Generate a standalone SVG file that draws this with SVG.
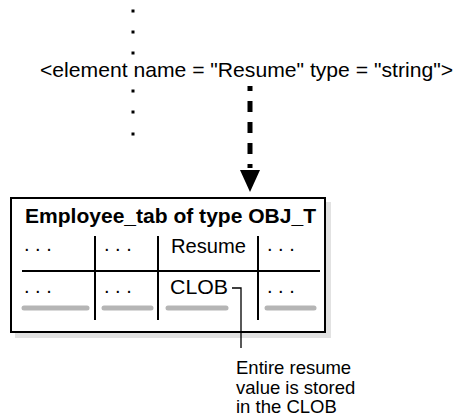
<svg xmlns="http://www.w3.org/2000/svg" width="459" height="418" viewBox="0 0 459 418">
<style>
text{font-family:"Liberation Sans",Arial,sans-serif;fill:#000}
.t{font-size:21px}
.c{font-size:20px}
.n{font-size:18.5px}
.b{font-size:20px;font-weight:bold}
.grid{stroke:#000;stroke-width:2;fill:none}
.bar{stroke:#b5b5b5;stroke-width:5;stroke-linecap:round}
.dot{fill:#000}
</style>
<g id="element">
<rect class="dot" x="131.5" y="9.5" width="3" height="3"/>
<rect class="dot" x="131.5" y="30.5" width="3" height="3"/>
<rect class="dot" x="131.5" y="51.5" width="3" height="3"/>
<text class="t" x="40" y="77" textLength="413" lengthAdjust="spacingAndGlyphs">&lt;element name = "Resume" type = "string"&gt;</text>
<rect class="dot" x="131.5" y="89.5" width="3" height="3"/>
<rect class="dot" x="131.5" y="110.5" width="3" height="3"/>
<rect class="dot" x="131.5" y="132.5" width="3" height="3"/>
</g>
<g id="employee_tab">
<rect x="15" y="202" width="316" height="136" fill="#e2e2e2"/>
<rect x="11" y="198" width="314" height="134" fill="#fff" stroke="#000" stroke-width="2"/>
<text class="b" x="25" y="223" textLength="291" lengthAdjust="spacingAndGlyphs">Employee_tab of type OBJ_T</text>
<line class="grid" x1="22" y1="271" x2="320" y2="271"/>
<line class="grid" x1="95" y1="236" x2="95" y2="320"/>
<line class="grid" x1="158" y1="236" x2="158" y2="320"/>
<line class="grid" x1="258" y1="236" x2="258" y2="320"/>
<line class="bar" x1="24" y1="308" x2="87" y2="308"/>
<line class="bar" x1="104" y1="308" x2="151" y2="308"/>
<line class="bar" x1="168" y1="308" x2="226" y2="308"/>
<line class="bar" x1="267" y1="308" x2="314" y2="308"/>
<text class="c" x="24" y="251">. . .</text>
<text class="c" x="104" y="251">. . .</text>
<text class="c" x="171" y="253" textLength="75" lengthAdjust="spacingAndGlyphs">Resume</text>
<text class="c" x="267" y="251">. . .</text>
<text class="c" x="24" y="293">. . .</text>
<text class="c" x="104" y="293">. . .</text>
<text class="c" x="170" y="294" textLength="58" lengthAdjust="spacingAndGlyphs">CLOB</text>
<text class="c" x="267" y="293">. . .</text>
</g>
<g id="note">
<text class="n" x="236" y="374">Entire resume</text>
<text class="n" x="236" y="393.5">value is stored</text>
<text class="n" x="236" y="413">in the CLOB</text>
</g>
<g id="connectors">
<line x1="250" y1="86" x2="250" y2="168" stroke="#000" stroke-width="5" stroke-dasharray="5,10,11,10,11,10,11,10"/>
<polygon points="240,170 260,170 250,192" fill="#000"/>
<path d="M232,288 H241 V348" fill="none" stroke="#000" stroke-width="1.3"/>
</g>
</svg>
